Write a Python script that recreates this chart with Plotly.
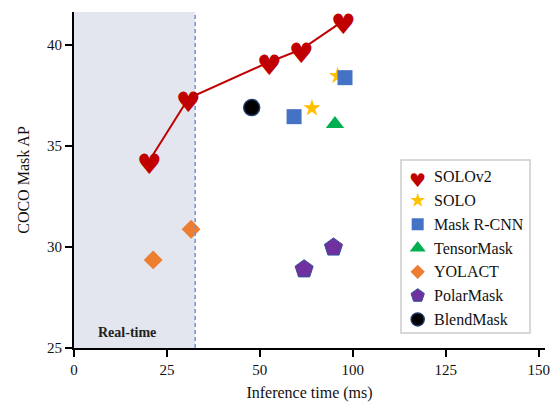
import plotly.graph_objects as go

# x values are positions on the displayed (non-linear) time axis; tick labels below
x_tickvals = [0, 25, 50, 75, 100, 125]
x_ticktext = ["0", "25", "50", "100", "125", "150"]
y_tickvals = [25, 30, 35, 40]

solov2_x = [20.2, 30.8, 52.7, 61.3, 72.5]
solov2_y = [34.26, 37.36, 39.17, 39.79, 41.2]
solo_x = [64.0, 70.9]
solo_y = [36.87, 38.47]
maskrcnn_x = [59.2, 72.9]
maskrcnn_y = [36.45, 38.38]
tensormask_x = [70.2]
tensormask_y = [36.09]
yolact_x = [21.3, 31.5]
yolact_y = [29.36, 30.88]
polarmask_x = [61.9, 69.8]
polarmask_y = [28.9, 29.98]
blendmask_x = [47.8]
blendmask_y = [36.9]
realtime_limit = 32.6

FONT = "Liberation Serif"
HEART = "#C00000"

fig = go.Figure()

# real-time shaded region
fig.add_shape(type="rect", xref="x", yref="paper", x0=0, x1=realtime_limit, y0=0, y1=1,
              fillcolor="#E3E6EE", line_width=0, layer="below")
fig.add_shape(type="line", xref="x", yref="paper", x0=realtime_limit, x1=realtime_limit, y0=0, y1=1,
              line=dict(color="#6F93D6", width=1.5, dash="4px,3px"))

# SOLOv2 line + hearts
fig.add_trace(go.Scatter(x=solov2_x, y=solov2_y, mode="lines",
                         line=dict(color=HEART, width=2), showlegend=False, cliponaxis=False))
for xv, yv in zip(solov2_x, solov2_y):
    fig.add_annotation(x=xv, y=yv, xref="x", yref="y", text="♥", showarrow=False,
                       xanchor="center", yanchor="middle", yshift=-4,
                       font=dict(family="DejaVu Sans", size=28, color=HEART))

series = [
    ("SOLO", solo_x, solo_y, "star", "#FFC000", 13, 11, "#FFC000", 0),
    ("Mask R-CNN", maskrcnn_x, maskrcnn_y, "square", "#4472C4", 15, 12, "#4472C4", 0),
    ("TensorMask", tensormask_x, tensormask_y, "triangle-up", "#00B050", 16, 14, "#00B050", 0),
    ("YOLACT", yolact_x, yolact_y, "diamond", "#ED7D31", 14.5, 11, "#ED7D31", 0),
    ("PolarMask", polarmask_x, polarmask_y, "pentagon", "#7030A0", 19, 14, "#2F5597", 1),
    ("BlendMask", blendmask_x, blendmask_y, "circle", "#000000", 16, 13, "#1F3864", 1.5),
]
for name, xs, ys, sym, col, size, lsize, lcol, lw in series:
    fig.add_trace(go.Scatter(x=xs, y=ys, mode="markers", name=name, showlegend=False,
                             marker=dict(symbol=sym, color=col, size=size,
                                         line=dict(color=lcol, width=lw)), cliponaxis=False))

# custom legend on overlay axes [0,1]
row0 = 0.5098
step = 0.0708
sx = 0.7297
tx = 0.7607
fig.add_shape(type="rect", xref="paper", yref="paper", x0=0.6943, x1=0.9682, y0=0.0446, y1=0.5595,
              line=dict(color="#CCCCCC", width=1.5), fillcolor="rgba(0,0,0,0)", layer="above")
fig.add_annotation(xref="paper", yref="paper", x=sx, y=row0, text="♥", showarrow=False,
                   xanchor="center", yanchor="middle", yshift=-3,
                   font=dict(family="DejaVu Sans", size=19, color=HEART))
legend_names = ["SOLOv2"] + [s[0] for s in series]
for i, (name, xs, ys, sym, col, size, lsize, lcol, lw) in enumerate(series, start=1):
    fig.add_trace(go.Scatter(x=[sx], y=[row0 - i * step], xaxis="x2", yaxis="y2", mode="markers",
                             marker=dict(symbol=sym, color=col, size=lsize,
                                         line=dict(color=lcol, width=lw)),
                             showlegend=False, cliponaxis=False))
for i, name in enumerate(legend_names):
    fig.add_annotation(xref="paper", yref="paper", x=tx, y=row0 - i * step, text=name,
                       showarrow=False, xanchor="left", yanchor="middle",
                       font=dict(family=FONT, size=16, color="#111111"))

fig.add_annotation(xref="x", yref="paper", x=5.8, y=0.045, text="<b>Real-time</b>", showarrow=False,
                   xanchor="left", yanchor="middle", font=dict(family=FONT, size=14, color="#222222"))

fig.update_layout(
    width=554, height=403,
    margin=dict(l=74, r=9, t=12, b=55, autoexpand=False),
    plot_bgcolor="white", paper_bgcolor="white",
    font=dict(family=FONT, size=15, color="#111111"),
    xaxis=dict(range=[0, 126.7], tickvals=x_tickvals, ticktext=x_ticktext, showgrid=False,
               zeroline=False, showline=True, linecolor="black", linewidth=1.8,
               ticks="outside", ticklen=7, tickwidth=1.5, tickcolor="black", automargin=False,
               tickfont=dict(size=15),
               title=dict(text="Inference time (ms)", font=dict(size=16), standoff=10)),
    yaxis=dict(range=[25, 41.63], tickvals=y_tickvals, showgrid=False, zeroline=False,
               showline=True, linecolor="black", linewidth=1.8, automargin=False,
               ticks="outside", ticklen=7, tickwidth=1.5, tickcolor="black",
               tickfont=dict(size=15),
               title=dict(text="COCO Mask AP", font=dict(size=16), standoff=13)),
    xaxis2=dict(overlaying="x", range=[0, 1], visible=False),
    yaxis2=dict(overlaying="y", range=[0, 1], visible=False),
)

fig.write_html("out.html", config={"displayModeBar": False},
               post_script="document.body.style.margin='0';document.body.style.overflow='hidden';")
